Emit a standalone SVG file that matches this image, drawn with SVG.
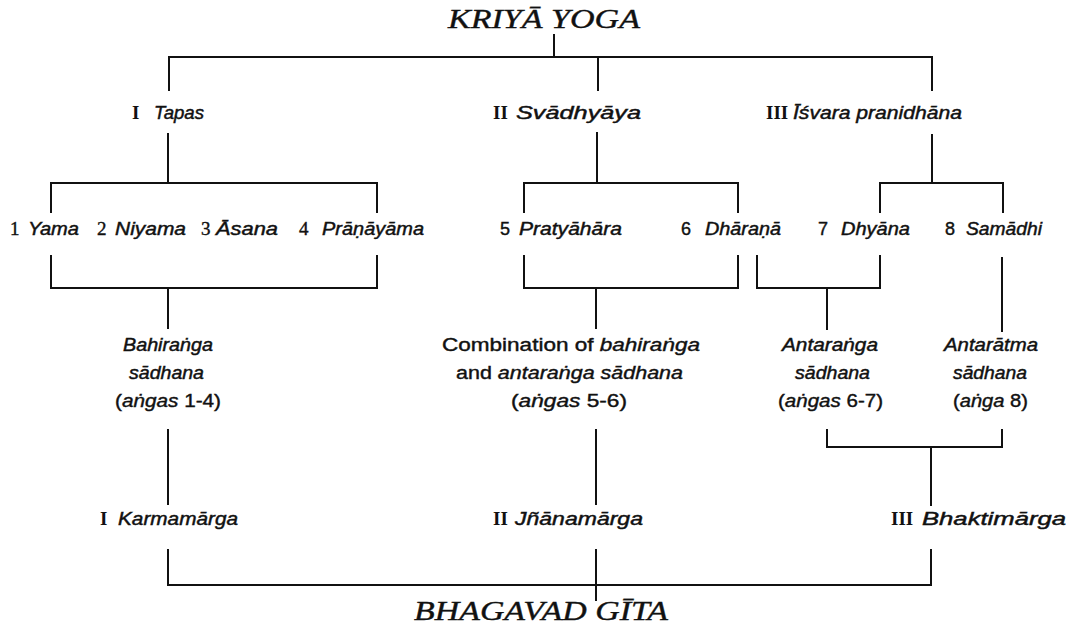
<svg xmlns="http://www.w3.org/2000/svg" width="1091" height="637" viewBox="0 0 1091 637">
<style>
text{fill:#111;}
.t{font-family:"Liberation Serif",serif;font-style:italic;font-size:28px;stroke:#111;stroke-width:0.4px;}
.sk{font-family:"Liberation Sans",sans-serif;font-style:italic;font-size:18px;stroke:#111;stroke-width:0.45px;}
.rm{font-family:"Liberation Sans",sans-serif;font-size:18px;stroke:#111;stroke-width:0.4px;}
.rn{font-family:"Liberation Serif",serif;font-weight:bold;font-size:19px;}
.nr{font-family:"Liberation Serif",serif;font-size:19px;stroke:#111;stroke-width:0.4px;}
.ns{font-family:"Liberation Sans",sans-serif;font-size:18px;stroke:#111;stroke-width:0.4px;}
.it{font-style:italic;}
.ln{stroke:#111;stroke-width:2;fill:none;stroke-linecap:square;}
</style>
<rect width="1091" height="637" fill="#fff"/>
<g id="connectors" class="ln">
<path d="M554 35V57M169 57H932M169 57V90M598 57V90M932 57V90"/>
<path d="M168 134V183M51 212V183H377V212"/>
<path d="M597 133V183M524 212V183H738V212"/>
<path d="M932 135V183M880 212V183H1003V212"/>
<path d="M51 256V288H377V256M168 288V328"/>
<path d="M524 256V288H738V256M596 288V328"/>
<path d="M757 256V288H880V256M827 288V329"/>
<path d="M1002 258V331"/>
<path d="M168 430V504M596 430V504"/>
<path d="M827 430V447H1002V430M931 447V505"/>
<path d="M168 550V585H931V550M596 550V600"/>
</g>
<g id="kriya-yoga"><text class="t" x="448" y="28" textLength="192" lengthAdjust="spacingAndGlyphs">KRIYĀ YOGA</text></g>
<g id="tapas"><text class="rn" x="132" y="119">I</text><text class="sk" x="154" y="119" textLength="50" lengthAdjust="spacingAndGlyphs">Tapas</text></g>
<g id="svadhyaya"><text class="rn" x="493" y="119">II</text><text class="sk" x="516" y="119" textLength="125" lengthAdjust="spacingAndGlyphs">Svādhyāya</text></g>
<g id="isvara"><text class="rn" x="766" y="119">III</text><text class="sk" x="793" y="119" textLength="169" lengthAdjust="spacingAndGlyphs">Īśvara pranidhāna</text></g>
<g id="yama"><text class="nr" x="10" y="235">1</text><text class="sk" x="28" y="235" textLength="51" lengthAdjust="spacingAndGlyphs">Yama</text></g>
<g id="niyama"><text class="nr" x="97" y="235">2</text><text class="sk" x="115" y="235" textLength="71" lengthAdjust="spacingAndGlyphs">Niyama</text></g>
<g id="asana"><text class="nr" x="201" y="235">3</text><text class="sk" x="216" y="235" textLength="62" lengthAdjust="spacingAndGlyphs">Āsana</text></g>
<g id="pranayama"><text class="nr" x="299" y="235">4</text><text class="sk" x="322" y="235" textLength="102" lengthAdjust="spacingAndGlyphs">Prāṇāyāma</text></g>
<g id="pratyahara"><text class="ns" x="500" y="235">5</text><text class="sk" x="519" y="235" textLength="103" lengthAdjust="spacingAndGlyphs">Pratyāhāra</text></g>
<g id="dharana"><text class="ns" x="681" y="235">6</text><text class="sk" x="705" y="235" textLength="76" lengthAdjust="spacingAndGlyphs">Dhāraṇā</text></g>
<g id="dhyana"><text class="ns" x="818" y="235">7</text><text class="sk" x="841" y="235" textLength="69" lengthAdjust="spacingAndGlyphs">Dhyāna</text></g>
<g id="samadhi"><text class="ns" x="945" y="235">8</text><text class="sk" x="966" y="235" textLength="76" lengthAdjust="spacingAndGlyphs">Samādhi</text></g>
<g id="bahiranga">
<text class="sk" x="123" y="351" textLength="90" lengthAdjust="spacingAndGlyphs">Bahiraṅga</text>
<text class="sk" x="129" y="379" textLength="75" lengthAdjust="spacingAndGlyphs">sādhana</text>
<text class="rm" x="115" y="407" textLength="106" lengthAdjust="spacingAndGlyphs">(<tspan class="it">aṅgas</tspan> 1-4)</text>
</g>
<g id="combination">
<text class="rm" x="442" y="351" textLength="258" lengthAdjust="spacingAndGlyphs">Combination of <tspan class="it">bahiraṅga</tspan></text>
<text class="rm" x="456" y="379" textLength="227" lengthAdjust="spacingAndGlyphs">and <tspan class="it">antaraṅga sādhana</tspan></text>
<text class="rm" x="511" y="407" textLength="116" lengthAdjust="spacingAndGlyphs">(<tspan class="it">aṅgas</tspan> 5-6)</text>
</g>
<g id="antaranga">
<text class="sk" x="782" y="351" textLength="96" lengthAdjust="spacingAndGlyphs">Antaraṅga</text>
<text class="sk" x="795" y="379" textLength="75" lengthAdjust="spacingAndGlyphs">sādhana</text>
<text class="rm" x="778" y="407" textLength="105" lengthAdjust="spacingAndGlyphs">(<tspan class="it">aṅgas</tspan> 6-7)</text>
</g>
<g id="antaratma">
<text class="sk" x="944" y="351" textLength="94" lengthAdjust="spacingAndGlyphs">Antarātma</text>
<text class="sk" x="953" y="379" textLength="74" lengthAdjust="spacingAndGlyphs">sādhana</text>
<text class="rm" x="953" y="407" textLength="75" lengthAdjust="spacingAndGlyphs">(<tspan class="it">aṅga</tspan> 8)</text>
</g>
<g id="karmamarga"><text class="rn" x="100" y="525">I</text><text class="sk" x="118" y="525" textLength="120" lengthAdjust="spacingAndGlyphs">Karmamārga</text></g>
<g id="jnanamarga"><text class="rn" x="493" y="525">II</text><text class="sk" x="515" y="525" textLength="128" lengthAdjust="spacingAndGlyphs">Jñānamārga</text></g>
<g id="bhaktimarga"><text class="rn" x="891" y="525">III</text><text class="sk" x="922" y="525" textLength="144" lengthAdjust="spacingAndGlyphs">Bhaktimārga</text></g>
<g id="bhagavad-gita"><text class="t" x="414" y="620" textLength="254" lengthAdjust="spacingAndGlyphs">BHAGAVAD GĪTA</text></g>
</svg>
